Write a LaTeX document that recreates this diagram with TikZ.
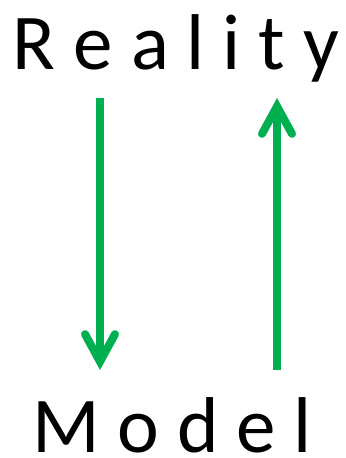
\documentclass[tikz,border=0pt]{standalone}
\usepackage{fontspec}
\setmainfont{Carlito}
\usetikzlibrary{arrows.meta}
\definecolor{flechaVerde}{RGB}{0, 176, 80}

\begin{document}
\begin{tikzpicture}[
  word/.style={anchor=base, inner sep=0pt, font=\fontsize{45}{54}\selectfont},
  arrow/.style={draw=flechaVerde, line width=0.16cm,
    -{Straight Barb[length=0.55cm, width=0.6cm, line cap=round]}},
]
\useasboundingbox (0,0) rectangle (6.9,9.16);

% Words
\node[word] (reality) at (3.52,7.76) {R e a l i t y};
\node[word] (model) at (3.44,0.1) {M o d e l};

% Arrow ends
\coordinate (downStart) at (2.0,7.2);
\coordinate (downEnd) at (2.0,1.76);
\coordinate (upStart) at (5.54,1.76);
\coordinate (upEnd) at (5.54,7.2);

% Arrows
\draw[arrow] (downStart) -- (downEnd);
\draw[arrow] (upStart) -- (upEnd);

\end{tikzpicture}
\end{document}
